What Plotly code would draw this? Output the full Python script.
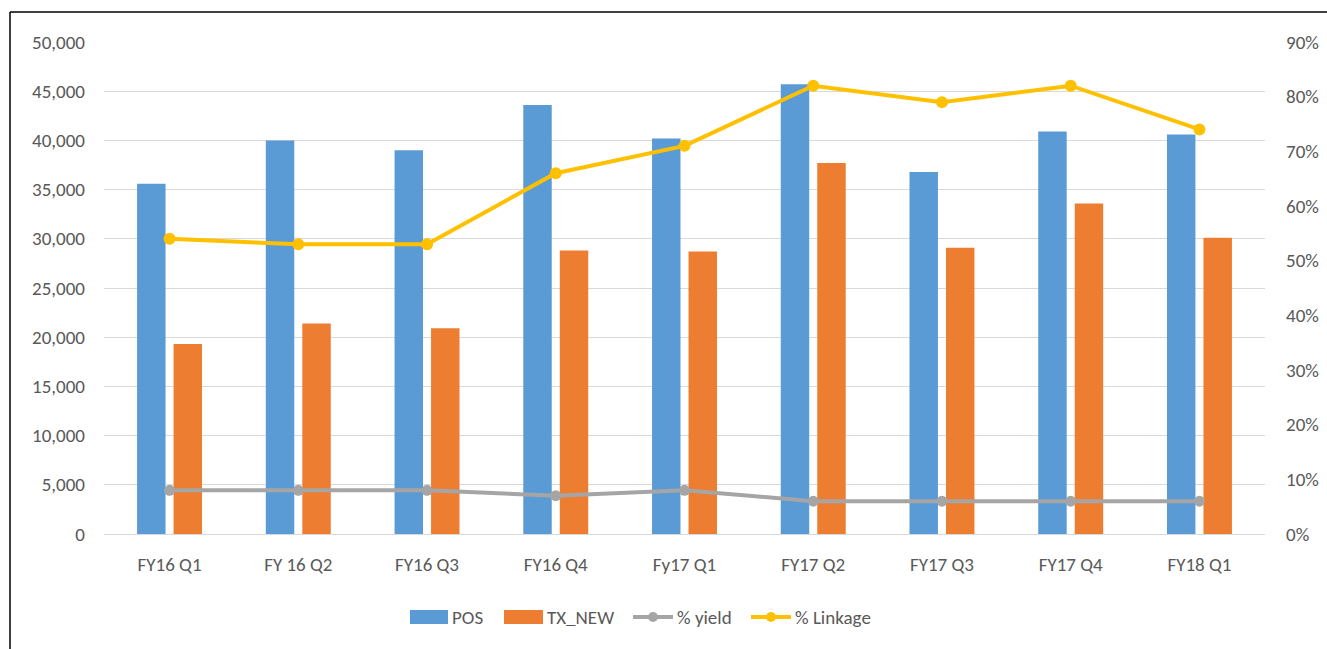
import plotly.graph_objects as go

# Quarterly data
quarters = ["FY16 Q1", "FY 16 Q2", "FY16 Q3", "FY16 Q4", "Fy17 Q1",
            "FY17 Q2", "FY17 Q3", "FY17 Q4", "FY18 Q1"]
pos = [35600, 40000, 39000, 43600, 40200, 45700, 36800, 40900, 40600]
tx_new = [19300, 21400, 20900, 28800, 28700, 37700, 29100, 33600, 30100]
pct_yield = [0.08, 0.08, 0.08, 0.07, 0.08, 0.06, 0.06, 0.06, 0.06]
pct_linkage = [0.54, 0.53, 0.53, 0.66, 0.71, 0.82, 0.79, 0.82, 0.74]

left_ticks = list(range(0, 50001, 5000))
right_ticks = [i / 10 for i in range(10)]

FONT = "Carlito, Calibri, Lato, sans-serif"
FS = 19
TXT = "#595959"
GRID = "#d9d9d9"
BLUE, ORANGE, GRAY, GOLD = "#5b9bd5", "#ed7d31", "#a5a5a5", "#ffc000"

fig = go.Figure()
fig.add_trace(go.Bar(name="POS", x=quarters, y=pos, marker_color=BLUE,
                     marker_line_width=0))
fig.add_trace(go.Bar(name="TX_NEW", x=quarters, y=tx_new, marker_color=ORANGE,
                     marker_line_width=0))
fig.add_trace(go.Scatter(name="% yield", x=quarters, y=pct_yield, yaxis="y2",
                         mode="lines+markers",
                         line=dict(color=GRAY, width=4),
                         marker=dict(color=GRAY, size=11)))
fig.add_trace(go.Scatter(name="% Linkage", x=quarters, y=pct_linkage, yaxis="y2",
                         mode="lines+markers",
                         line=dict(color=GOLD, width=4),
                         marker=dict(color=GOLD, size=12)))

# Plot-area geometry (pixels) for frame lines and the legend row
W, H = 1327, 649
ml, mr, mt, mb = 104, 62, 42, 115
pw, ph = W - ml - mr, H - mt - mb


def px(x):
    return (x - ml) / pw


def py(y):
    return (H - mb - y) / ph


shapes = [
    dict(type="line", xref="paper", yref="paper",
         x0=px(10), x1=px(W), y0=py(12), y1=py(12),
         line=dict(color="black", width=1.5)),
    dict(type="line", xref="paper", yref="paper",
         x0=px(10), x1=px(10), y0=py(H), y1=py(12),
         line=dict(color="black", width=1.5)),
]
annotations = []

# Legend row below the plot
leg_y = 617
legend_items = [
    ("rect", BLUE, 410, 448, "POS"),
    ("rect", ORANGE, 504, 543, "TX_NEW"),
    ("line", GRAY, 633, 673, "% yield"),
    ("line", GOLD, 751, 791, "% Linkage"),
]
for kind, color, x0, x1, label in legend_items:
    if kind == "rect":
        shapes.append(dict(type="rect", xref="paper", yref="paper",
                           x0=px(x0), x1=px(x1), y0=py(leg_y + 7), y1=py(leg_y - 7),
                           fillcolor=color, line=dict(width=0)))
    else:
        shapes.append(dict(type="line", xref="paper", yref="paper",
                           x0=px(x0), x1=px(x1), y0=py(leg_y), y1=py(leg_y),
                           line=dict(color=color, width=4)))
        cx = (x0 + x1) / 2
        shapes.append(dict(type="circle", xref="paper", yref="paper",
                           x0=px(cx - 5), x1=px(cx + 5), y0=py(leg_y + 5), y1=py(leg_y - 5),
                           fillcolor=color, line=dict(width=0)))
    annotations.append(dict(xref="paper", yref="paper", x=px(x1 + 2), y=py(leg_y),
                            xanchor="left", yanchor="middle", showarrow=False,
                            text=label, font=dict(family=FONT, size=FS, color=TXT)))

fig.update_layout(
    width=W, height=H,
    margin=dict(l=ml, r=mr, t=mt, b=mb),
    paper_bgcolor="white", plot_bgcolor="white",
    font=dict(family=FONT, size=FS, color=TXT),
    barmode="group", bargap=0.433, bargroupgap=0.22,
    showlegend=False,
    xaxis=dict(showgrid=False, showline=False, zeroline=False,
               ticks="", ticklabelstandoff=17, automargin=False,
               tickfont=dict(family=FONT, size=FS, color=TXT)),
    yaxis=dict(range=[0, 50000], tickvals=left_ticks, tickformat=",d",
               showgrid=True, gridcolor=GRID, gridwidth=1,
               zeroline=True, zerolinecolor=GRID, zerolinewidth=1,
               showline=False, ticks="", ticklabelstandoff=18, automargin=False,
               tickfont=dict(family=FONT, size=FS, color=TXT)),
    yaxis2=dict(range=[0, 0.9], tickvals=right_ticks, tickformat=".0%",
                overlaying="y", side="right", showgrid=False,
                zeroline=False, showline=False, ticks="",
                ticklabelstandoff=20, automargin=False,
                tickfont=dict(family=FONT, size=FS, color=TXT)),
    shapes=shapes,
    annotations=annotations,
)

fig.write_html("out.html")
